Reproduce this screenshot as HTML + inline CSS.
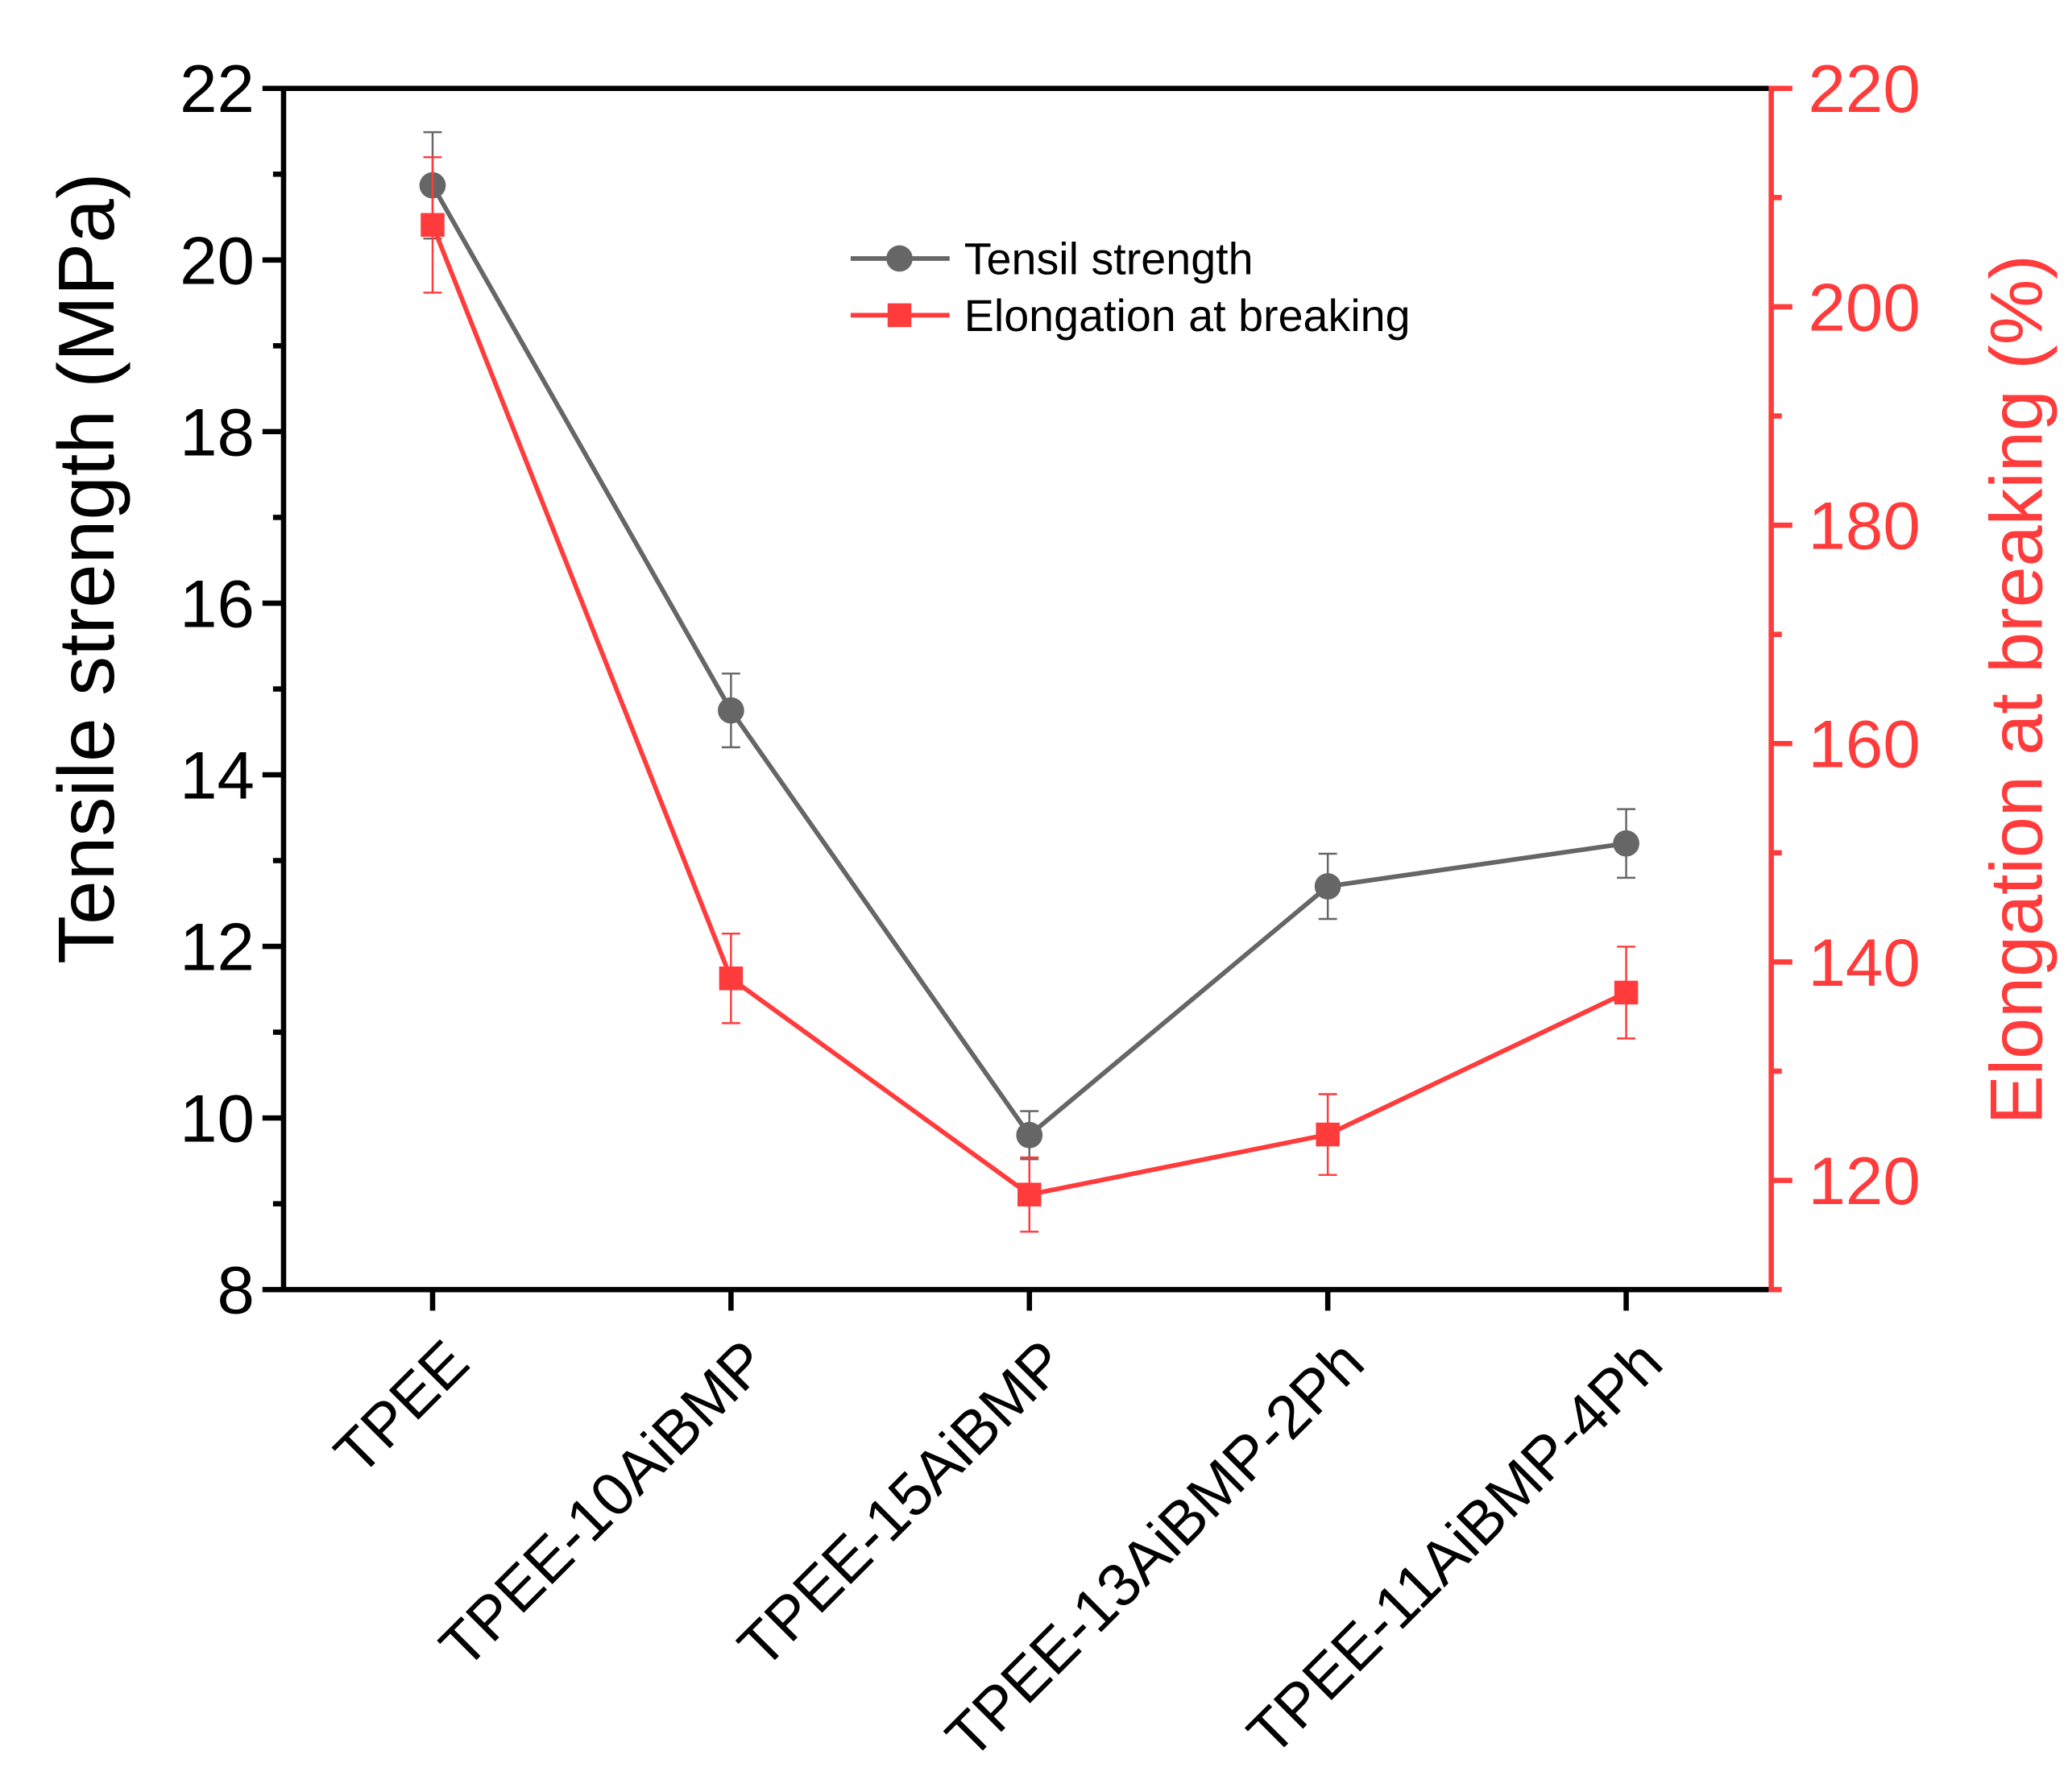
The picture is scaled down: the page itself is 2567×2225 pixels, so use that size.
<!DOCTYPE html>
<html><head><meta charset="utf-8"><style>
html,body{margin:0;padding:0;background:#fff;}
svg{display:block;font-family:"Liberation Sans",Arial,sans-serif;}
</style></head><body>
<svg id="chart" width="2567" height="2225" viewBox="0 0 1568 1359" xmlns="http://www.w3.org/2000/svg">
<g id="g"></g>
</svg>
<script>
const categories = ["TPEE","TPEE-10AiBMP","TPEE-15AiBMP","TPEE-13AiBMP-2Ph","TPEE-11AiBMP-4Ph"];
const tensile = [20.87, 14.75, 9.8, 12.7, 13.2];
const tensileErr = [0.62, 0.43, 0.28, 0.38, 0.4];
const elong = [207.5, 138.5, 118.7, 124.2, 137.2];
const elongErr = [6.2, 4.1, 3.4, 3.7, 4.2];
const leftTicks = [8,10,12,14,16,18,20,22];
const rightTicks = [120,140,160,180,200,220];

const X0=215, X1=1343, Y0=978, Y1=67;
const RED="#ff3b3b";
const xPos = i => 328 + i*226.25;
const yL = v => Y0 - (v-8)/(22-8)*(Y0-Y1);
const yR = v => Y0 - (v-110)/(220-110)*(Y0-Y1);
const g = document.getElementById('g');
const NS="http://www.w3.org/2000/svg";
function el(tag, attrs, parent){const e=document.createElementNS(NS,tag);for(const k in attrs)e.setAttribute(k,attrs[k]);(parent||g).appendChild(e);return e;}

let a;
a=el('line',{x1:X0,y1:Y1,x2:X1,y2:Y1,stroke:'#000','stroke-width':4});


a=el('line',{x1:X0,y1:Y0,x2:X1,y2:Y0,stroke:'#000','stroke-width':4});


a=el('line',{x1:X0,y1:Y1-2,x2:X0,y2:Y0+2,stroke:'#000','stroke-width':4});


a=el('line',{x1:X1,y1:Y1-2,x2:X1,y2:Y0+2,stroke:RED,'stroke-width':4});



for(let v=8; v<=22; v+=1){
  const y=yL(v), major=(v%2===0);
  const t=el('line',{x1:X0,y1:y,x2:X0-(major?16:8),y2:y,stroke:'#000','stroke-width':4});
  
  
}
leftTicks.forEach(v=>{
  const t=el('text',{x:X0-22,y:yL(v)+18,'text-anchor':'end','font-size':51,fill:'#000'});
  t.textContent=v;
  
  
});
for(let v=110; v<=220; v+=10){
  const y=yR(v), major=(v%20===0);
  const t=el('line',{x1:X1,y1:y,x2:X1+(major?16:8),y2:y,stroke:RED,'stroke-width':4});
  
  
}
rightTicks.forEach(v=>{
  const t=el('text',{x:X1+28,y:yR(v)+18,'text-anchor':'start','font-size':51,fill:RED});
  t.textContent=v;
  
  
});
categories.forEach((c,i)=>{
  const x=xPos(i);
  const t=el('line',{x1:x,y1:Y0,x2:x,y2:Y0+16,stroke:'#000','stroke-width':4});
  
  
  const tx=el('text',{x:x+30,y:1036,'text-anchor':'end','font-size':46,fill:'#000',transform:`rotate(-45 ${x+30} 1036)`});
  tx.textContent=c;
  
  
});
let tt=el('text',{x:0,y:0,'text-anchor':'middle','font-size':60,fill:'#000',transform:'translate(86 431) rotate(-90)'});
tt.textContent='Tensile strength (MPa)';


tt=el('text',{x:0,y:0,'text-anchor':'middle','font-size':56,fill:RED,transform:'translate(1548 523) rotate(-90)'});
tt.textContent='Elongation at breaking (%)';



function drawSeries(vals, errs, yf, color, lineColor, marker, name){
  const pts=vals.map((v,i)=>xPos(i)+','+yf(v)).join(' ');
  const pl=el('polyline',{points:pts,fill:'none',stroke:lineColor,'stroke-width':3.5});
  
  
  vals.forEach((v,i)=>{
    const x=xPos(i), yt=yf(v+errs[i]), yb=yf(v-errs[i]);
    const eb=el('path',{d:`M${x},${yt}V${yb}M${x-7},${yt}H${x+7}M${x-7},${yb}H${x+7}`,stroke:color,'stroke-width':1.5,fill:'none'});
    
    
    let m;
    if(marker==='circle') m=el('circle',{cx:x,cy:yf(v),r:10,fill:color});
    else m=el('rect',{x:x-9,y:yf(v)-9,width:18,height:18,fill:color});
    
    
  });
}
drawSeries(tensile,tensileErr,yL,'#666','#666','circle','tensile-strength');
drawSeries(elong,elongErr,yR,RED,RED,'square','elongation');

let lg=el('line',{x1:645,y1:196,x2:720,y2:196,stroke:'#666','stroke-width':3.5});


lg=el('circle',{cx:682,cy:196,r:10,fill:'#666'});


lg=el('text',{x:731,y:208,'font-size':34,fill:'#000'});
lg.textContent='Tensil strength';


lg=el('line',{x1:645,y1:239,x2:720,y2:239,stroke:RED,'stroke-width':3.5});


lg=el('rect',{x:673,y:230,width:18,height:18,fill:RED});


lg=el('text',{x:731,y:251,'font-size':34,fill:'#000'});
lg.textContent='Elongation at breaking';


</script>
</body></html>
